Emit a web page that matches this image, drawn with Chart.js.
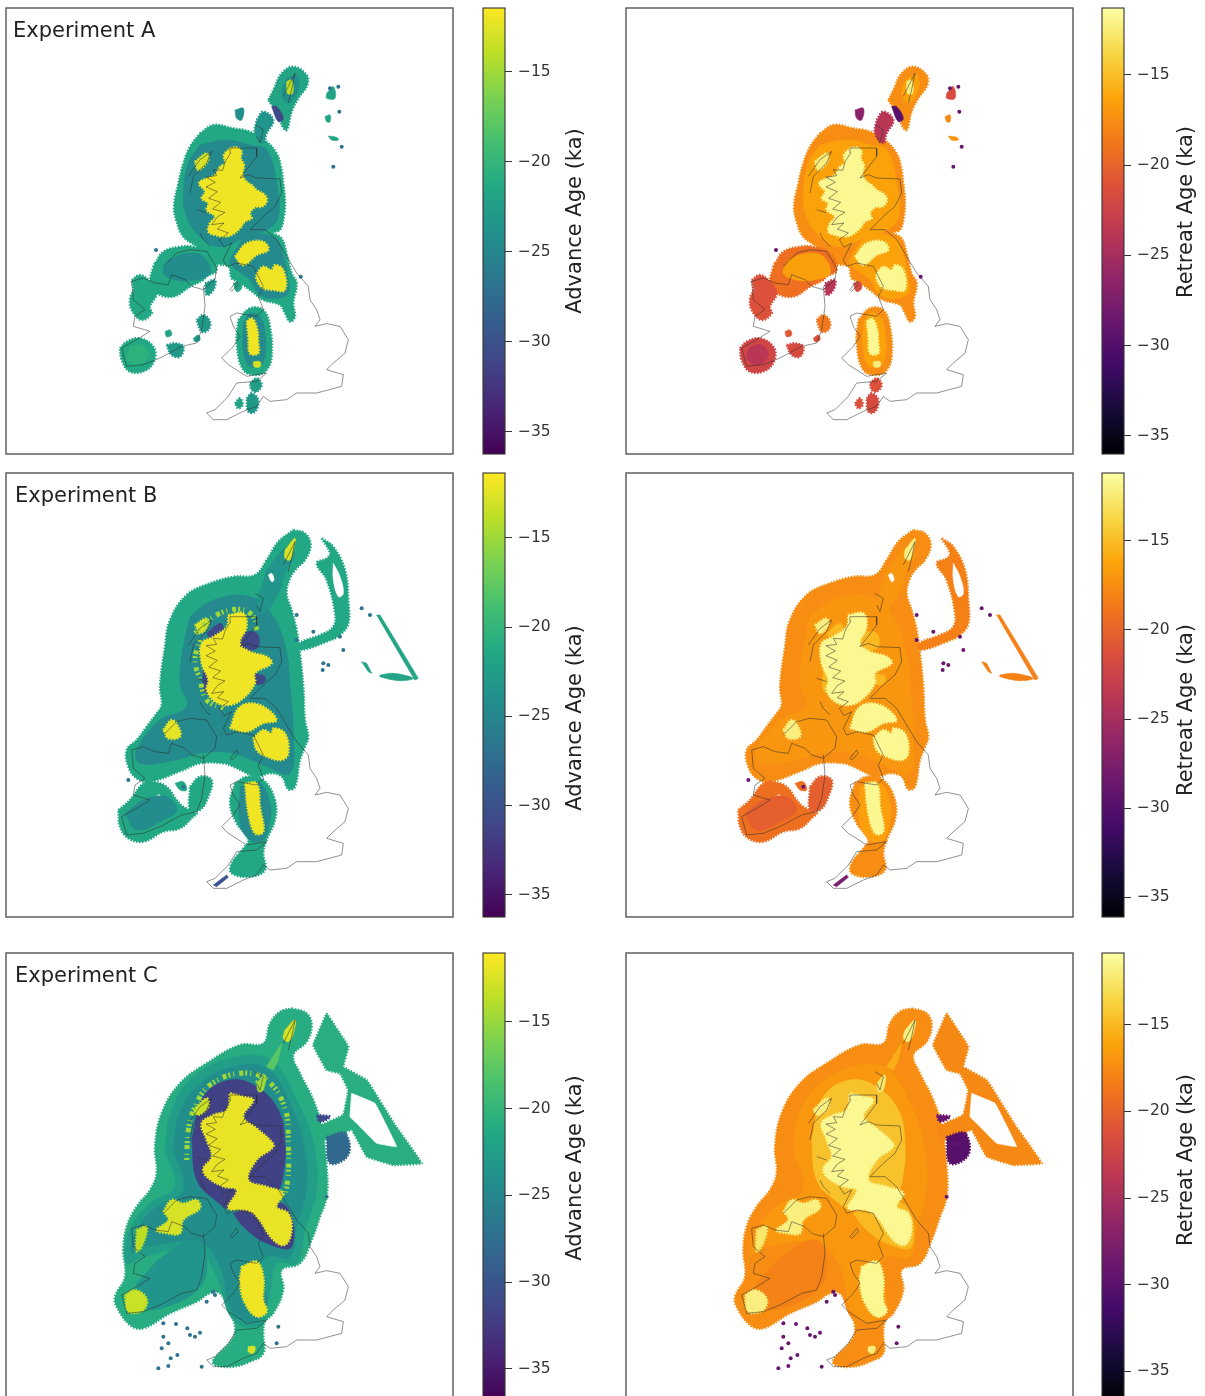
<!DOCTYPE html>
<html><head><meta charset="utf-8">
<script src="https://cdn.jsdelivr.net/npm/chart.js@4/dist/chart.umd.js"></script>
<style>
html,body{margin:0;padding:0;background:#fff}
#page{position:relative;width:1205px;height:1396px;overflow:hidden}
canvas{position:absolute;filter:blur(0.45px)}
</style></head><body><div id="page"></div>
<script>
/* ---- colour bar ticks ---- */
const tickValues=[-15,-20,-25,-30,-35];
const experimentNames=["Experiment A","Experiment B","Experiment C"];
const barTitles=["Advance Age (ka)","Retreat Age (ka)"];
const advRanges=[[-36.23,-11.46],[-36.24,-11.37],[-36.8,-11.04]];
const retRanges=[[-36.0,-11.3],[-36.1,-11.2],[-36.65,-10.87]];

/* ---- shared coast (map units) ---- */
const coastBritain=[370,620,395,570,372,582,358,560,385,540,352,528,372,510,335,515,352,492,375,478,338,468,362,448,326,436,352,416,318,402,346,388,318,372,350,368,340,350,368,352,376,325,392,300,390,285,470,285,470,310,440,350,420,375,445,365,470,375,540,378,545,420,525,460,490,490,470,510,450,530,495,530,530,560,560,610,590,660,625,700,630,740,650,770,660,800,645,820,680,812,720,820,745,860,735,900,700,930,680,950,730,965,725,1000,650,1020,590,1020,560,1040,510,1045,490,1030,470,1060,430,1075,380,1100,340,1100,320,1080,345,1070,385,1030,410,990,470,985,500,960,440,970,385,935,365,915,400,880,420,850,400,820,390,790,410,780,470,790,490,770,475,730,490,700,460,640,410,630,380,640,370,620];
const coastIreland=[310,700,315,760,305,830,290,870,245,880,180,915,130,935,80,940,65,885,110,860,150,835,100,820,105,790,135,770,100,740,95,685,130,675,165,690,205,695,215,665,255,680,275,700,310,710,345,680,350,645,320,595,270,590,230,600,190,640];
const coastMan=[390,710,410,685,415,695,395,715,390,710];
const coastHebrides=[265,370,300,320,335,295,320,330,280,370,270,420];
const coastIslay=[300,540,310,560,330,580];
const coastMull=[290,470,320,480];
const coastOrkney=[465,215,490,230,480,270,470,250];
const coastShetland=[550,130,570,90,585,60,575,110,565,150];
const coastLines=[coastBritain,coastIreland,coastMan,coastHebrides,coastIslay,coastMull,coastOrkney,coastShetland];

/* ---- Experiment A ---- */
const A_main=[300,250,340,225,400,235,450,245,500,275,530,310,543,350,550,400,555,450,552,500,540,540,520,548,545,565,560,610,575,670,590,700,580,760,585,800,570,815,555,790,540,765,490,750,450,720,415,695,395,685,385,650,340,640,290,590,250,560,230,515,222,470,235,400,250,340,270,290];
const A_donegal=[165,640,190,605,240,590,280,590,330,610,350,660,320,680,310,690,270,710,220,740,170,730,150,700,160,650];
const A_west=[95,690,120,675,150,695,170,730,150,770,155,790,125,810,95,780,90,745,100,720];
const A_kerry=[60,895,80,875,120,865,160,890,165,925,140,960,90,965,65,930];
const A_wales=[415,810,450,775,490,780,510,830,515,920,500,960,470,975,430,960,410,880];
const A_lump1=[450,1000,470,985,485,1005,470,1025,455,1020];
const A_lump2=[440,1045,455,1030,475,1050,465,1085,445,1085];
const A_lump3=[405,1060,420,1045,428,1065,415,1075];
const A_lump4=[290,810,310,795,330,815,325,840,305,845];
const A_lump5=[195,845,210,840,215,855,200,860];
const A_lump6=[200,885,225,880,250,890,240,920,215,915];
const A_lump7=[280,865,295,855,300,870,285,875];
const A_lump8=[315,700,345,690,340,720,320,735];
const A_lump9=[400,700,420,695,425,715,410,725];
const A_shetland=[505,150,520,120,545,70,580,50,620,75,622,105,595,145,575,185,560,240,545,225,540,190,515,165];
const A_orkney=[470,210,490,185,520,210,500,250,490,280,465,250];
const A_isles1=[405,180,430,175,425,210,410,205];
const A_ne1=[680,130,700,110,705,145,680,145];
const A_ne2=[675,200,690,195,690,215,680,215];
const A_ne3=[685,258,710,262,715,270,695,270];
const A_shetDark=[515,170,530,170,550,205,535,215];
const A_midMain=[300,285,380,270,450,285,500,300,530,400,535,500,500,540,440,560,360,590,300,560,260,500,250,430,265,340];
const A_midEng=[400,610,440,560,520,560,545,600,565,690,565,730,530,745,480,735,450,690,390,640];
const A_midWales=[430,820,450,790,480,800,495,850,490,935,450,950,430,900];
const A_midDonegal=[205,630,260,610,310,620,330,670,280,690,230,690,190,670];
const A_midKerry=[90,890,125,885,145,915,115,945,80,925];
const A_midShet=[560,85,590,75,595,120,565,160,545,130];
const A_yScot=[390,295,410,292,425,305,422,325,432,345,428,375,440,395,455,405,470,420,495,435,500,455,485,470,465,472,450,490,455,505,435,515,420,535,395,555,370,560,345,555,325,545,330,520,345,500,320,480,325,460,305,445,315,425,297,400,320,385,345,375,360,350,375,340,372,315];
const A_ySkye=[285,335,320,310,325,330,295,360];
const A_yEng1=[405,620,440,580,490,575,505,600,470,615,430,645];
const A_yEng2=[470,670,490,650,515,660,525,645,550,660,555,720,520,720,490,715,470,690];
const A_yWales=[440,815,455,805,470,830,475,880,475,910,450,910,445,860];
const A_yWales2=[460,935,480,935,480,950,462,950];
const A_yShet=[560,95,575,90,578,130,562,130];
const A_dots=[725,290,700,350,718,185,602,680,168,600,715,110,690,115];
const A_layers=[
 [A_main,-21.4,-17.8,1],[A_donegal,-21.4,-19.5,1],[A_west,-21.4,-21.4,1],[A_kerry,-21.4,-22.5,1],[A_wales,-21.4,-17.8,1],
 [A_lump1,-22.5,-21.5,1],[A_lump2,-23,-22,1],[A_lump3,-22,-21.5,1],[A_lump4,-23,-19,1],[A_lump5,-22,-21,0],[A_lump6,-23,-22,1],[A_lump7,-23,-21.5,0],[A_lump8,-23,-24,1],[A_lump9,-22,-22,0],
 [A_shetland,-21.8,-17.8,1],[A_orkney,-23.5,-24,1],[A_isles1,-24,-27,0],[A_ne1,-21.8,-22,0],[A_ne2,-21.8,-18,0],[A_ne3,-21.8,-17.5,0],[A_shetDark,-31,-30,0],
 [A_midMain,-24.6,-16.6,0],[A_midEng,-24.6,-16.6,0],[A_midWales,-24.6,-16.6,0],[A_midDonegal,-24.4,-16.8,0],[A_midKerry,-20.5,-24,0],[A_midShet,-24,-16.6,0],
 [A_yScot,-12,-12,1],[A_ySkye,-13,-12.5,1],[A_yEng1,-12,-12,1],[A_yEng2,-12,-12,1],[A_yWales,-12,-12,1],[A_yWales2,-13,-12.5,0],[A_yShet,-14,-12.5,0]
];

/* ---- Experiment B ---- */
const B_main=[580,30,615,40,632,75,615,120,590,145,570,175,560,220,575,270,590,330,600,400,610,500,615,600,625,650,615,680,600,720,585,800,565,808,545,770,510,760,470,770,400,740,370,730,300,730,250,750,150,785,110,775,85,740,80,690,110,660,140,620,170,580,185,555,180,500,195,380,210,300,260,225,330,190,400,170,465,165,500,120,535,65];
const B_wales=[405,790,440,770,490,780,525,840,525,900,500,960,490,1000,495,1050,450,1070,395,1060,395,1030,430,985,445,960,410,910,390,850];
const B_kerry=[55,870,90,840,130,790,160,785,200,800,230,840,250,860,290,880,280,890,240,925,190,935,130,965,85,955,60,920];
const B_lobe=[270,800,300,770,335,780,325,830,300,870,270,870];
const B_lump=[225,790,250,785,260,810,240,810];
const B_nsea=[665,55,700,80,735,150,745,240,745,310,720,345,680,365,600,390,598,370,660,345,700,320,705,280,680,180,650,130,680,115,690,100];
const B_diag=[830,285,840,285,955,475,945,480];
const B_strip=[840,465,880,460,940,475,900,482,840,470];
const B_strip2=[785,425,800,430,815,460,805,455];
const B_holeNs=[700,130,720,170,730,220,715,230,700,180];
const B_holeKerry=[165,830,180,825,185,855,170,855];
const B_mid=[270,290,340,240,450,230,520,290,560,400,570,500,580,640,570,760,500,740,400,700,300,700,230,720,120,730,110,690,180,600,260,560,240,490,250,380];
const B_midWales=[420,800,480,790,510,850,510,900,490,960,450,960,420,910];
const B_midKerry=[75,880,130,840,200,830,230,870,190,900,110,930];
const B_midShet=[500,150,560,80,585,100,560,150,530,230,490,280,470,260];
const B_holeShet=[505,165,515,160,522,180,515,185];
const B_pur1=[430,335,470,340,475,380,440,390,420,370];
const B_pur2=[460,460,495,470,490,490,465,490];
const B_pur3=[320,340,360,310,370,330,340,365];
const B_pur4=[310,450,330,460,330,520,310,510];
const B_ring=[285,340,350,285,420,268,460,290,470,330];
const B_ring2=[300,360,285,420,300,480,320,540,370,565];
const B_yScot=[385,285,430,280,440,320,420,370,450,395,500,410,515,430,465,460,465,490,430,535,390,555,345,545,320,510,325,480,305,430,305,370,340,350,380,320];
const B_ySkye=[285,315,320,295,325,315,300,340];
const B_yEng1=[390,625,420,560,480,555,530,600,490,610,440,635];
const B_yEng2=[460,655,490,630,515,640,520,625,555,640,565,700,545,720,500,710,470,690];
const B_yIre=[190,630,215,600,235,620,240,650,205,655];
const B_yWales=[435,790,470,790,480,860,490,935,465,940,445,880];
const B_yShet=[555,90,585,55,580,90,570,120,555,115];
const B_darkSpit=[340,1095,380,1065,385,1072,350,1100];
const B_dots=[590,285,590,360,785,265,810,285,670,430,685,435,668,450,640,335,730,390,85,780,720,350,250,800];
const B_layers=[
 [B_main,-21.4,-17.8,1],[B_wales,-21.4,-17.8,1],[B_kerry,-21.4,-19.5,1],[B_lobe,-21.4,-20.5,1],[B_lump,-21.4,-19.5,0],[B_nsea,-21.4,-18.5,1],[B_holeNs,null,null,0],[B_holeKerry,null,null,0],[B_diag,-21.8,-18.5,0,1],[B_strip,-21.8,-18.5,0],[B_strip2,-21.8,-18.5,0,1],[B_darkSpit,-30,-28,0,1],
 [B_mid,-24.6,-17.3,0],[B_midWales,-24.6,-16.8,0],[B_midKerry,-24.4,-20.5,0],[B_midShet,-23.5,-17.3,0],[B_holeShet,null,null,0],
 [B_pur1,-31,-15.5,0],[B_pur2,-31,-15.5,0],[B_pur3,-31,-15.5,0],[B_pur4,-31,-15.5,0],
 [B_yScot,-12,-12,1],[B_ySkye,-13,-12.5,1],[B_yEng1,-12,-12,1],[B_yEng2,-12,-12,1],[B_yIre,-12.5,-12.5,1],[B_yWales,-12,-12,1],[B_yShet,-13,-12.5,0]
];

/* ---- Experiment C ---- */
const C_main=[575,25,620,40,635,75,620,125,580,165,600,220,640,300,665,380,680,500,680,590,660,650,635,720,600,790,545,810,550,870,520,940,495,965,490,1000,490,1060,450,1085,400,1100,345,1095,340,1080,395,1020,405,980,385,930,360,880,330,880,290,905,210,940,130,985,90,975,50,920,45,890,75,830,70,750,80,680,110,620,150,570,170,520,165,440,185,340,240,250,320,190,420,135,490,130,510,70,540,35];
const C_nsea=[680,40,745,140,730,200,800,240,885,375,965,490,880,495,800,470,755,390,660,425,655,380,730,345,745,270,720,220,680,210,640,135];
const C_hole=[755,280,825,310,890,440,830,430,770,370,750,350];
const C_band=[195,450,210,345,270,240,390,175,510,180,590,300,640,430,650,570,615,690,590,790,530,790,510,880,480,975,400,960,350,830,290,745,130,770,80,790,90,690,150,610,225,560];
const C_mid=[220,450,235,350,290,260,400,200,500,205,570,310,610,430,620,560,590,680,570,770,500,770,480,820,500,900,470,960,400,940,360,800,300,730,130,740,95,760,110,690,170,620,250,570];
const C_midKerry=[110,850,200,760,290,720,320,780,300,860,200,920,120,920];
const C_spit=[500,200,545,130,535,180,520,210];
const C_purple=[275,420,310,290,390,240,470,260,535,330,555,430,550,520,530,580,480,600,400,630,345,600,290,540];
const C_purple2=[400,640,480,610,560,620,575,740,500,730,430,680];
const C_patch1=[680,410,735,400,745,465,690,490];
const C_patch2=[650,345,690,350,660,365];
const C_ring=[260,480,265,390,285,320,330,255,420,220,500,240,555,325,565,430,565,520,555,590];
const C_ring2=[470,250,495,225];
const C_yScot=[390,280,430,290,460,300,430,350,470,385,510,420,520,440,470,480,445,540,500,560,550,580,530,620,565,640,575,690,555,735,520,720,470,650,440,630,385,625,410,570,370,560,320,530,310,505,335,470,320,420,305,370,340,345,380,330];
const C_yIre=[190,635,215,600,250,610,290,600,300,625,250,660,240,700,200,700,170,690,205,660];
const C_ySkye=[280,330,320,295,325,320,295,345];
const C_yWales=[425,800,470,785,490,830,490,900,500,935,470,950,435,910,420,850];
const C_yKerry=[75,885,105,870,140,895,130,930,85,935];
const C_yShet=[555,90,585,60,580,100,565,125,550,115];
const C_yCork=[445,1040,465,1040,460,1060,445,1055];
const C_yWest=[110,690,140,680,130,730,110,755];
const C_yOrk=[470,250,495,225,490,270,475,275];
const C_dots=[190,970,228,972,262,985,300,998,270,1005,285,1010,190,1010,185,1045,205,1030,212,1075,232,1065,205,1098,175,1105,305,1100,320,905,340,875,345,885,535,980,530,1030,680,590,705,432,735,402];
const C_layers=[
 [C_main,-21.0,-17.8,1],[C_nsea,-20.8,-18,1,1],[C_hole,null,null,0,1],[C_band,-22.6,-17.8,0],[C_mid,-24.2,-17.2,0],[C_midKerry,-23.6,-18.4,0],[C_spit,-18,-16,0,1],
 [C_purple,-31.5,-15,0],[C_purple2,-31.5,-15.5,0],[C_patch1,-28,-30,1],[C_patch2,-31,-29,1],
 [C_yScot,-12.3,-12,1],[C_yIre,-13,-12.5,1],[C_ySkye,-13.5,-12.5,1],[C_yWales,-12,-12,1],[C_yKerry,-13.5,-12.5,1],[C_yShet,-13,-12.5,0],[C_yCork,-13,-12.5,0],[C_yWest,-14,-13,1],[C_yOrk,-15,-13,0]
];

const B_lines=[B_ring,B_ring2];
const C_lines=[C_ring,C_ring2];

const viridisStops=["#440154","#482475","#414487","#355f8d","#2a788e","#21918c","#22a884","#44bf70","#7ad151","#bddf26","#fde725"];
const infernoStops=["#000004","#160b39","#420a68","#6a176e","#932667","#bc3754","#dd513a","#f37819","#fca50a","#f6d746","#fcffa4"];

/* ---- helpers ---- */
function toPoints(flat,dy){const o=[];for(let i=0;i<flat.length;i+=2)o.push({x:flat[i],y:flat[i+1]+(dy||0)});return o;}
function toClosed(flat){const o=toPoints(flat);o.push({x:flat[0],y:flat[1]});return o;}
function hex(c){return [1,3,5].map(i=>parseInt(c.substr(i,2),16));}
function colorAt(stops,age){
  const t=Math.min(1,Math.max(0,(age+36.3)/24.8))*(stops.length-1);
  const i=Math.min(stops.length-2,Math.floor(t)),f=t-i;
  const a=hex(stops[i]),b=hex(stops[i+1]);
  return 'rgb('+a.map((v,k)=>Math.round(v+(b[k]-v)*f)).join(',')+')';
}
const framePlugin={id:'frame',afterDraw(c,_,o){
  const a=c.chartArea,x=c.ctx;x.save();x.strokeStyle=o.color||'#555';x.lineWidth=o.width||1.4;
  x.strokeRect(a.left,a.top,a.right-a.left,a.bottom-a.top);
  if(o.label){x.fillStyle='#222';x.font='21px "DejaVu Sans"';x.textBaseline='middle';x.textAlign='left';x.fillText(o.label,a.left+o.lx,a.top+24);}
  if(o.barTitle){x.fillStyle='#222';x.font='21px "DejaVu Sans"';x.textAlign='center';x.textBaseline='middle';
    x.translate(o.tx,o.ty);x.rotate(-Math.PI/2);x.fillText(o.barTitle,0,0);}
  x.restore();}};
Chart.register(framePlugin);
const page=document.getElementById('page');
function mk(left,top,w,h){const c=document.createElement('canvas');c.width=w;c.height=h;c.style.left=left+'px';c.style.top=top+'px';c.style.width=w+'px';c.style.height=h+'px';page.appendChild(c);return c;}

function drawMap(left,top,h,yr,layers,lines,dots,stops,ageIdx,coastDy,dotAge,label,lx){
  const ds=[];let n=0;
  layers.forEach(l=>{const col=l[ageIdx]===null?'#ffffff':colorAt(stops,l[ageIdx]);
    ds.push({data:toClosed(l[0]),showLine:true,fill:'shape',tension:l[4]?0.05:0.4,pointRadius:0,backgroundColor:col,borderColor:col,
      borderWidth:l[3]?2.4:0.6,borderDash:l[3]?[1.5,1.5]:[],order:-(n++)});});
  if(ageIdx===1)lines.forEach(l=>{const col=colorAt(stops,-15);
    ds.push({data:toPoints(l),showLine:true,fill:false,tension:0.4,pointRadius:0,borderColor:col,borderWidth:5,borderDash:[2,3,1,5,4,2],order:-(n++)});});
  coastLines.forEach(l=>{ds.push({data:toPoints(l,coastDy),showLine:true,fill:false,tension:0,pointRadius:0,borderColor:'rgba(45,45,45,0.75)',borderWidth:0.7,order:-(n++)});});
  ds.push({data:toPoints(dots),showLine:false,pointRadius:2,pointBorderWidth:0,pointBackgroundColor:colorAt(stops,dotAge),order:-(n++)});
  new Chart(mk(left-2,top-2,451,h+4),{type:'scatter',data:{datasets:ds},options:{
    responsive:false,animation:false,devicePixelRatio:1,layout:{autoPadding:false,padding:2},events:[],
    plugins:{legend:{display:false},tooltip:{enabled:false},frame:{label,lx}},
    scales:{x:{type:'linear',min:-282,max:1059,display:false},y:{type:'linear',reverse:true,min:yr[0],max:yr[1],display:false}}}});
}
function drawBar(left,top,h,range,stops,title,tx,ty){
  new Chart(mk(left-2,top-2,142,h+4),{type:'bar',data:{labels:[''],datasets:[{data:[[range[0],range[1]]],barPercentage:1,categoryPercentage:1,borderWidth:0,
    backgroundColor(ctx){const a=ctx.chart.chartArea;if(!a)return '#888';const s=ctx.chart.scales.y;
      const g=ctx.chart.ctx.createLinearGradient(0,s.getPixelForValue(range[0]),0,s.getPixelForValue(range[1]));
      for(let i=0;i<=40;i++){g.addColorStop(i/40,colorAt(stops,-36.3+24.8*i/40));}return g;}}]},
    options:{responsive:false,animation:false,devicePixelRatio:1,layout:{autoPadding:false,padding:{left:2,top:2,bottom:2,right:0}},events:[],
    plugins:{legend:{display:false},tooltip:{enabled:false},frame:{color:'#333',width:1.1,barTitle:title,tx:tx,ty:ty}},
    scales:{x:{display:false},
      y:{position:'right',min:range[0],max:range[1],border:{display:false},
         grid:{drawOnChartArea:false,drawTicks:true,tickLength:7,color:'#333',lineWidth:1},
         afterBuildTicks(s){s.ticks=tickValues.map(v=>({value:v}));},
         afterFit(s){s.width=118;s.paddingTop=0;s.paddingBottom=0;},
         ticks:{color:'#333',padding:6,font:{family:'DejaVu Sans',size:15.5},callback:v=>'\u2212'+Math.abs(v)}}}}});
}
/* layout */
const rows=[{top:8,h:446,yr:[-126,1212],dy:9,layers:A_layers,lines:[],dots:A_dots,lx:7,tL:221,tR:212},
            {top:473,h:444,yr:[-141,1191],dy:5,layers:B_layers,lines:B_lines,dots:B_dots,lx:9,tL:718,tR:710},
            {top:953,h:447,yr:[-141,1200],dy:0,layers:C_layers,lines:C_lines,dots:C_dots,lx:9,tL:1168,tR:1160}];
rows.forEach((r,i)=>{
  drawMap(6,r.top,r.h,r.yr,r.layers,r.lines,r.dots,viridisStops,1,r.dy,-27,experimentNames[i],r.lx);
  drawBar(483,r.top,r.h,advRanges[i],viridisStops,barTitles[0],576-481,r.tL-r.top+2);
  drawMap(626,r.top,r.h,r.yr,r.layers,r.lines,r.dots,infernoStops,2,r.dy,-29,null,0);
  drawBar(1102,r.top,r.h,retRanges[i],infernoStops,barTitles[1],1187-1100,r.tR-r.top+2);
});
</script></body></html>
